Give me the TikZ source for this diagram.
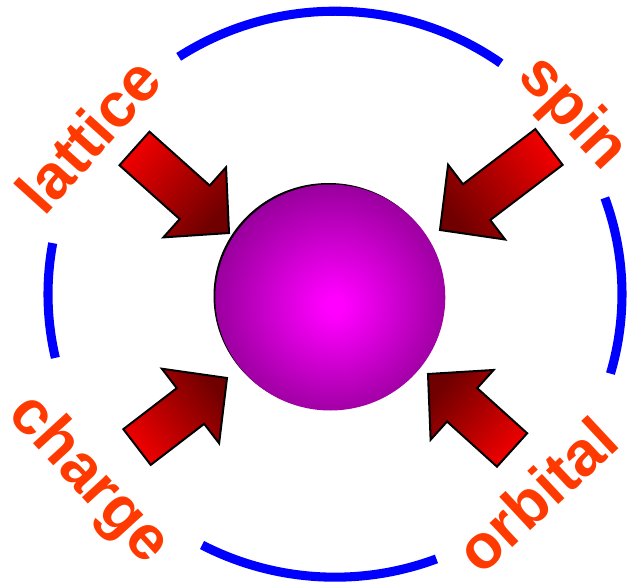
\documentclass[tikz,border=0pt]{standalone}
\usepackage{fontspec}
\setmainfont{Liberation Sans}
\usetikzlibrary{calc}
\definecolor{ringblue}{RGB}{0,0,255}
\definecolor{labelred}{RGB}{255,58,0}
\definecolor{arrbright}{RGB}{240,0,0}
\definecolor{arrdark}{RGB}{112,0,0}
\definecolor{sphin}{RGB}{255,0,255}
\definecolor{sphout}{RGB}{110,0,116}
\pgfdeclareradialshading{sphereshade}{\pgfpoint{1bp}{-2bp}}{color(0bp)=(sphin); color(2bp)=(sphin); color(36bp)=(sphout); color(50bp)=(sphout)}
% #1 tip coordinate, #2 direction angle, #3 shading angle, #4 length
\newcommand\blockarrow[4]{%
  \path[arrowbody, shading angle=#3] (#1)
    -- ($(#1)+(#2:-46)+(#2+90:47)$)
    -- ($(#1)+(#2:-46)+(#2+90:22.5)$)
    -- ($(#1)+(#2:-#4)+(#2+90:22.5)$)
    -- ($(#1)+(#2:-#4)+(#2-90:22.5)$)
    -- ($(#1)+(#2:-46)+(#2-90:22.5)$)
    -- ($(#1)+(#2:-46)+(#2-90:47)$)
    -- cycle;}
\tikzset{
  ring/.style={draw=ringblue, line width=6.8pt},
  arrowbody/.style={draw=black, line width=1.5pt, line join=miter, top color=arrdark, bottom color=arrbright},
  lbl/.style={text=labelred, font=\fontsize{47}{50}\selectfont\bfseries, inner sep=0pt}
}
\begin{document}
\begin{tikzpicture}[x=0.75pt, y=0.75pt]
\useasboundingbox (0,0) rectangle (631,586);
\coordinate (ringc) at (335,291.8);
\coordinate (ball) at (330.3,288.5);
% ring segments
\draw[ring] (ringc) ++(123:287 and 283) arc[start angle=123, end angle=54.7, x radius=287, y radius=283];
\draw[ring] (ringc) ++(19.9:287 and 283) arc[start angle=19.9, end angle=-16.3, x radius=287, y radius=283];
\draw[ring] (ringc) ++(-69.3:287 and 283) arc[start angle=-69.3, end angle=-117.6, x radius=287, y radius=283];
\draw[ring] (ringc) ++(169.6:287 and 283) arc[start angle=169.6, end angle=193, x radius=287, y radius=283];
% sphere
\fill[black] ($(ball)+(-1.8,1.5)$) ellipse [x radius=115, y radius=113];
\shade[shading=sphereshade] (ball) ellipse [x radius=115, y radius=113];
% arrow tips
\coordinate (tipL) at (229,353);
\coordinate (tipS) at (440,356);
\coordinate (tipC) at (227,208);
\coordinate (tipO) at (428,212);
\blockarrow{tipL}{-41.8}{-131.8}{126.8}
\blockarrow{tipS}{217.3}{127.3}{137}
\blockarrow{tipC}{37.5}{-52.5}{113.4}
\blockarrow{tipO}{137.9}{47.9}{113.3}
% labels
\node[lbl, rotate=48] (lattice) at (88,451) {lattice};
\node[lbl, rotate=-47] (spin) at (572,472) {spin};
\node[lbl, rotate=-47.5] (charge) at (88,106) {charge};
\node[lbl, rotate=43] (orbital) at (536.5,91) {orbital};
\end{tikzpicture}
\end{document}
